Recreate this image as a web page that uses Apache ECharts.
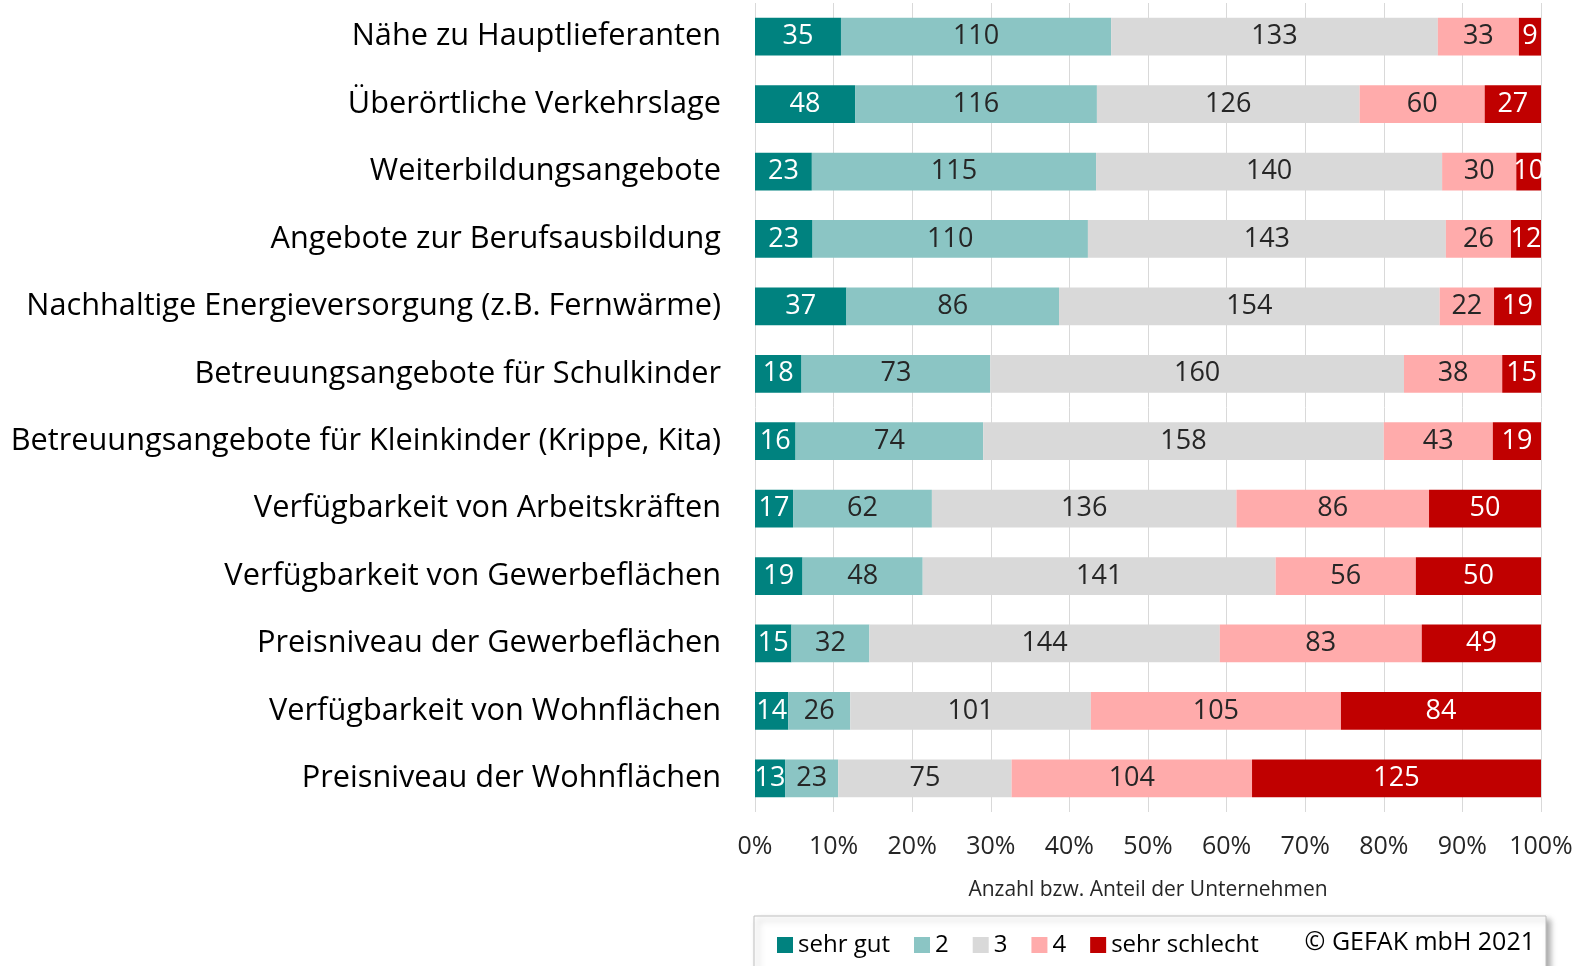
<!DOCTYPE html>
<html>
<head>
<meta charset="utf-8">
<script src="https://cdn.jsdelivr.net/npm/echarts@6/dist/echarts.min.js"></script>
<style>
  html, body { margin: 0; padding: 0; background: #fff; }
  #chart { width: 1577px; height: 966px; }
</style>
</head>
<body>
<div id="chart"></div>
<script>
var myChart = echarts.init(document.getElementById('chart'));

// Kategorien (von oben nach unten)
var categories = [
    'Nähe zu Hauptlieferanten',
    'Überörtliche Verkehrslage',
    'Weiterbildungsangebote',
    'Angebote zur Berufsausbildung',
    'Nachhaltige Energieversorgung (z.B. Fernwärme)',
    'Betreuungsangebote für Schulkinder',
    'Betreuungsangebote für Kleinkinder (Krippe, Kita)',
    'Verfügbarkeit von Arbeitskräften',
    'Verfügbarkeit von Gewerbeflächen',
    'Preisniveau der Gewerbeflächen',
    'Verfügbarkeit von Wohnflächen',
    'Preisniveau der Wohnflächen'
];

// Anzahl der Unternehmen je Bewertung
var sehrGut      = [35, 48, 23, 23, 37, 18, 16, 17, 19, 15, 14, 13];
var note2        = [110, 116, 115, 110, 86, 73, 74, 62, 48, 32, 26, 23];
var note3        = [133, 126, 140, 143, 154, 160, 158, 136, 141, 144, 101, 75];
var note4        = [33, 60, 30, 26, 22, 38, 43, 86, 56, 83, 105, 104];
var sehrSchlecht = [9, 27, 10, 12, 19, 15, 19, 50, 50, 49, 84, 125];

var seriesNames = ['sehr gut', '2', '3', '4', 'sehr schlecht'];
var colors = ['#00827f', '#8bc5c4', '#d9d9d9', '#ffabab', '#c00000'];
var labelColors = ['#ffffff', '#262626', '#262626', '#262626', '#ffffff'];
var xTicks = ['0%', '10%', '20%', '30%', '40%', '50%', '60%', '70%', '80%', '90%', '100%'];

var allData = [sehrGut, note2, note3, note4, sehrSchlecht];
var totals = categories.map(function (c, i) {
    return allData.reduce(function (s, arr) { return s + arr[i]; }, 0);
});

var FONT = 'Open Sans';

var series = allData.map(function (arr, k) {
    return {
        name: seriesNames[k],
        type: 'bar',
        stack: 'total',
        barWidth: '56%',
        itemStyle: { color: colors[k] },
        label: {
            show: true,
            position: 'inside',
            color: labelColors[k],
            fontFamily: FONT,
            fontSize: 27,
            formatter: function (p) { return arr[p.dataIndex]; }
        },
        data: arr.map(function (v, i) { return v / totals[i] * 100; })
    };
});

var option = {
    animation: false,
    textStyle: { fontFamily: FONT },
    grid: { left: 755, right: 36, top: 3, bottom: 154, containLabel: false },
    xAxis: {
        type: 'value',
        min: 0,
        max: 100,
        interval: 10,
        name: 'Anzahl bzw. Anteil der Unternehmen',
        nameLocation: 'middle',
        nameGap: 68,
        nameTextStyle: { fontSize: 21, color: '#262626', fontFamily: FONT },
        axisLine: { show: false },
        axisTick: { show: false },
        axisLabel: {
            fontSize: 25,
            color: '#262626',
            margin: 22,
            formatter: function (v) { return xTicks[Math.round(v / 10)]; }
        },
        splitLine: { show: true, lineStyle: { color: '#d9d9d9', width: 1 } }
    },
    yAxis: {
        type: 'category',
        inverse: true,
        data: categories,
        axisLine: { show: false },
        axisTick: { show: false },
        axisLabel: { fontSize: 30.7, color: '#000000', margin: 34, fontFamily: FONT }
    },
    legend: {
        data: seriesNames,
        left: 772,
        top: 928,
        itemWidth: 16,
        itemHeight: 16,
        itemGap: 24,
        icon: 'rect',
        textStyle: { fontSize: 24, color: '#000000', fontFamily: FONT }
    },
    graphic: [
        {
            type: 'rect',
            z: -1,
            shape: { x: 754, y: 916, width: 792, height: 60 },
            style: { fill: '#ffffff', stroke: '#bfbfbf', lineWidth: 1, shadowBlur: 6, shadowOffsetX: 4, shadowOffsetY: 4, shadowColor: 'rgba(0,0,0,0.35)' }
        },
        {
            type: 'text',
            right: 42,
            top: 930,
            style: { text: '© GEFAK mbH 2021', fontSize: 25, fontFamily: FONT, fill: '#000000' }
        }
    ],
    series: series
};

myChart.setOption(option);
</script>
</body>
</html>
